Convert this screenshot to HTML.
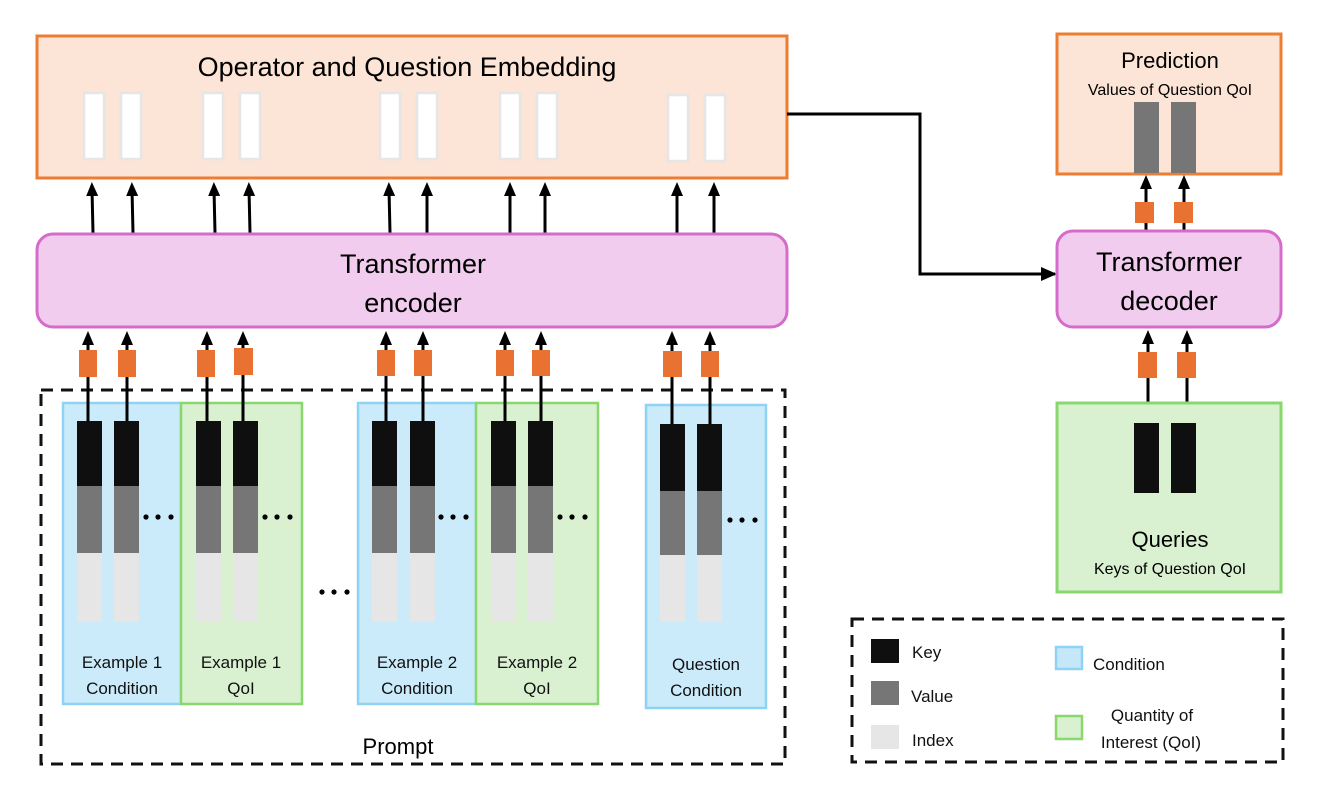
<!DOCTYPE html>
<html><head><meta charset="utf-8"><style>
html,body{margin:0;padding:0;background:#fff;}
svg{display:block;font-family:"Liberation Sans",sans-serif;}
</style></head><body>
<svg width="1330" height="803" viewBox="0 0 1330 803" xmlns="http://www.w3.org/2000/svg">
<defs>
<marker id="ah" markerWidth="14" markerHeight="14" refX="7" refY="7" orient="auto" markerUnits="userSpaceOnUse">
<path d="M0,1 L14,7 L0,13 z" fill="#000"/></marker>
<marker id="ah2" markerWidth="16" markerHeight="16" refX="14" refY="7" orient="auto" markerUnits="userSpaceOnUse">
<path d="M0,0 L16,7 L0,14 z" fill="#000"/></marker>
</defs>

<rect x="37" y="36" width="750" height="142" fill="#fce4d6" stroke="#ed7d31" stroke-width="3"/>
<text x="407" y="76" font-size="27" text-anchor="middle" fill="#000">Operator and Question Embedding</text>
<g fill="#fff" stroke="#e6e6e6" stroke-width="2.5">
<rect x="84" y="93" width="20" height="66"/><rect x="121" y="93" width="20" height="66"/>
<rect x="203" y="93" width="20" height="66"/><rect x="240" y="93" width="20" height="66"/>
<rect x="380" y="93" width="20" height="66"/><rect x="417" y="93" width="20" height="66"/>
<rect x="500" y="93" width="20" height="66"/><rect x="537" y="93" width="20" height="66"/>
<rect x="668" y="95" width="20" height="66"/><rect x="705" y="95" width="20" height="66"/>
</g>

<g stroke="#000" stroke-width="3" marker-end="url(#ah)">
<line x1="93" y1="233" x2="92" y2="189"/><line x1="133" y1="233" x2="132" y2="189"/>
<line x1="215" y1="233" x2="214" y2="189"/><line x1="250" y1="233" x2="249" y2="189"/>
<line x1="390" y1="233" x2="389" y2="189"/><line x1="427" y1="233" x2="427" y2="189"/>
<line x1="510" y1="233" x2="510" y2="189"/><line x1="545" y1="233" x2="545" y2="189"/>
<line x1="677" y1="233" x2="677" y2="189"/><line x1="714" y1="233" x2="714" y2="189"/>
</g>

<rect x="37" y="234" width="750" height="93" rx="16" fill="#f1ccee" stroke="#d56ccb" stroke-width="3"/>
<text x="413" y="273" font-size="27" text-anchor="middle">Transformer</text>
<text x="413" y="312" font-size="27" text-anchor="middle">encoder</text>

<rect x="41" y="390" width="744" height="374" fill="none" stroke="#111" stroke-width="3" stroke-dasharray="12,8"/>

<rect x="63" y="403" width="118" height="301" fill="#cbebfa" stroke="#8fd3f4" stroke-width="2.5"/>
<rect x="181" y="403" width="121" height="301" fill="#d9f1d0" stroke="#88d86e" stroke-width="2.5"/>
<rect x="358" y="403" width="118" height="301" fill="#cbebfa" stroke="#8fd3f4" stroke-width="2.5"/>
<rect x="476" y="403" width="122" height="301" fill="#d9f1d0" stroke="#88d86e" stroke-width="2.5"/>
<rect x="646" y="405" width="120" height="303" fill="#cbebfa" stroke="#8fd3f4" stroke-width="2.5"/>

<g>
<rect x="77" y="421" width="25" height="65" fill="#0f0f0f"/><rect x="77" y="486" width="25" height="67" fill="#767676"/><rect x="77" y="553" width="25" height="69" fill="#e6e6e6"/>
<rect x="114" y="421" width="25" height="65" fill="#0f0f0f"/><rect x="114" y="486" width="25" height="67" fill="#767676"/><rect x="114" y="553" width="25" height="69" fill="#e6e6e6"/>
<rect x="196" y="421" width="25" height="65" fill="#0f0f0f"/><rect x="196" y="486" width="25" height="67" fill="#767676"/><rect x="196" y="553" width="25" height="69" fill="#e6e6e6"/>
<rect x="233" y="421" width="25" height="65" fill="#0f0f0f"/><rect x="233" y="486" width="25" height="67" fill="#767676"/><rect x="233" y="553" width="25" height="69" fill="#e6e6e6"/>
<rect x="372" y="421" width="25" height="65" fill="#0f0f0f"/><rect x="372" y="486" width="25" height="67" fill="#767676"/><rect x="372" y="553" width="25" height="69" fill="#e6e6e6"/>
<rect x="410" y="421" width="25" height="65" fill="#0f0f0f"/><rect x="410" y="486" width="25" height="67" fill="#767676"/><rect x="410" y="553" width="25" height="69" fill="#e6e6e6"/>
<rect x="491" y="421" width="25" height="65" fill="#0f0f0f"/><rect x="491" y="486" width="25" height="67" fill="#767676"/><rect x="491" y="553" width="25" height="69" fill="#e6e6e6"/>
<rect x="528" y="421" width="25" height="65" fill="#0f0f0f"/><rect x="528" y="486" width="25" height="67" fill="#767676"/><rect x="528" y="553" width="25" height="69" fill="#e6e6e6"/>
<rect x="660" y="424" width="25" height="67" fill="#0f0f0f"/><rect x="660" y="491" width="25" height="64" fill="#767676"/><rect x="660" y="555" width="25" height="67" fill="#e6e6e6"/>
<rect x="697" y="424" width="25" height="67" fill="#0f0f0f"/><rect x="697" y="491" width="25" height="64" fill="#767676"/><rect x="697" y="555" width="25" height="67" fill="#e6e6e6"/>
</g>

<g fill="#000">
<circle cx="146" cy="517" r="2.6"/><circle cx="158" cy="517" r="2.6"/><circle cx="171" cy="517" r="2.6"/>
<circle cx="265" cy="517" r="2.6"/><circle cx="277" cy="517" r="2.6"/><circle cx="290" cy="517" r="2.6"/>
<circle cx="441" cy="517" r="2.6"/><circle cx="453" cy="517" r="2.6"/><circle cx="466" cy="517" r="2.6"/>
<circle cx="560" cy="517" r="2.6"/><circle cx="572" cy="517" r="2.6"/><circle cx="585" cy="517" r="2.6"/>
<circle cx="730" cy="520" r="2.6"/><circle cx="742" cy="520" r="2.6"/><circle cx="755" cy="520" r="2.6"/>
<circle cx="322" cy="592" r="2.6"/><circle cx="334" cy="592" r="2.6"/><circle cx="347" cy="592" r="2.6"/>
</g>

<g stroke="#000" stroke-width="3" marker-end="url(#ah)">
<line x1="88" y1="421" x2="88" y2="338"/><line x1="127" y1="421" x2="127" y2="338"/>
<line x1="207" y1="421" x2="207" y2="338"/><line x1="243" y1="421" x2="243" y2="338"/>
<line x1="386" y1="421" x2="386" y2="338"/><line x1="423" y1="421" x2="423" y2="338"/>
<line x1="505" y1="421" x2="505" y2="338"/><line x1="541" y1="421" x2="541" y2="338"/>
<line x1="672" y1="424" x2="672" y2="338"/><line x1="710" y1="424" x2="710" y2="338"/>
</g>
<g fill="#e97132">
<rect x="79" y="350" width="18" height="27"/><rect x="118" y="350" width="18" height="27"/>
<rect x="197" y="350" width="18" height="27"/><rect x="234" y="348" width="19" height="27"/>
<rect x="377" y="350" width="18" height="26"/><rect x="414" y="350" width="18" height="26"/>
<rect x="496" y="350" width="18" height="26"/><rect x="532" y="350" width="18" height="26"/>
<rect x="663" y="351" width="19" height="26"/><rect x="701" y="351" width="18" height="26"/>
</g>

<g font-size="17" text-anchor="middle" fill="#111">
<text x="122" y="668">Example 1</text><text x="122" y="694">Condition</text>
<text x="241" y="668">Example 1</text><text x="241" y="694">QoI</text>
<text x="417" y="668">Example 2</text><text x="417" y="694">Condition</text>
<text x="537" y="668">Example 2</text><text x="537" y="694">QoI</text>
<text x="706" y="670">Question</text><text x="706" y="696">Condition</text>
</g>
<text x="398" y="754" font-size="22" text-anchor="middle">Prompt</text>

<polyline points="787,114 920,114 920,274 1055,274" fill="none" stroke="#000" stroke-width="3" marker-end="url(#ah2)"/>

<rect x="1057" y="34" width="224" height="140" fill="#fce4d6" stroke="#ed7d31" stroke-width="3"/>
<text x="1170" y="68" font-size="22" text-anchor="middle">Prediction</text>
<text x="1170" y="95" font-size="16" text-anchor="middle">Values of Question QoI</text>
<rect x="1134" y="102" width="25" height="71" fill="#767676"/>
<rect x="1171" y="102" width="25" height="71" fill="#767676"/>

<g stroke="#000" stroke-width="3" marker-end="url(#ah)">
<line x1="1146" y1="230" x2="1146" y2="182"/><line x1="1184" y1="230" x2="1184" y2="182"/>
<line x1="1148" y1="423" x2="1148" y2="337"/><line x1="1187" y1="423" x2="1187" y2="337"/>
</g>
<g fill="#e97132">
<rect x="1135" y="202" width="19" height="21"/><rect x="1174" y="202" width="19" height="21"/>
<rect x="1138" y="352" width="19" height="26"/><rect x="1177" y="352" width="19" height="26"/>
</g>

<rect x="1057" y="231" width="224" height="96" rx="16" fill="#f1ccee" stroke="#d56ccb" stroke-width="3"/>
<text x="1169" y="271" font-size="27" text-anchor="middle">Transformer</text>
<text x="1169" y="310" font-size="27" text-anchor="middle">decoder</text>

<rect x="1057" y="403" width="224" height="189" fill="#d9f1d0" stroke="#88d86e" stroke-width="3"/>
<rect x="1134" y="423" width="25" height="70" fill="#0f0f0f"/>
<rect x="1171" y="423" width="25" height="70" fill="#0f0f0f"/>
<text x="1170" y="547" font-size="22" text-anchor="middle">Queries</text>
<text x="1170" y="574" font-size="16" text-anchor="middle">Keys of Question QoI</text>

<rect x="852" y="619" width="431" height="143" fill="none" stroke="#111" stroke-width="3" stroke-dasharray="12,8"/>
<rect x="871" y="639" width="28" height="24" fill="#0f0f0f"/>
<rect x="871" y="681" width="28" height="24" fill="#767676"/>
<rect x="871" y="725" width="28" height="24" fill="#e6e6e6"/>
<g font-size="17" fill="#111">
<text x="912" y="658">Key</text>
<text x="911" y="702">Value</text>
<text x="912" y="746">Index</text>
<text x="1093" y="670">Condition</text>
</g>
<rect x="1056" y="647" width="26" height="22" fill="#c6e7f8" stroke="#8fd3f4" stroke-width="2.5"/>
<rect x="1056" y="716" width="26" height="23" fill="#d9f1d0" stroke="#88d86e" stroke-width="2.5"/>
<g font-size="17" fill="#111" text-anchor="middle">
<text x="1152" y="721">Quantity of</text>
<text x="1151" y="748">Interest (QoI)</text>
</g>
</svg>
</body></html>
